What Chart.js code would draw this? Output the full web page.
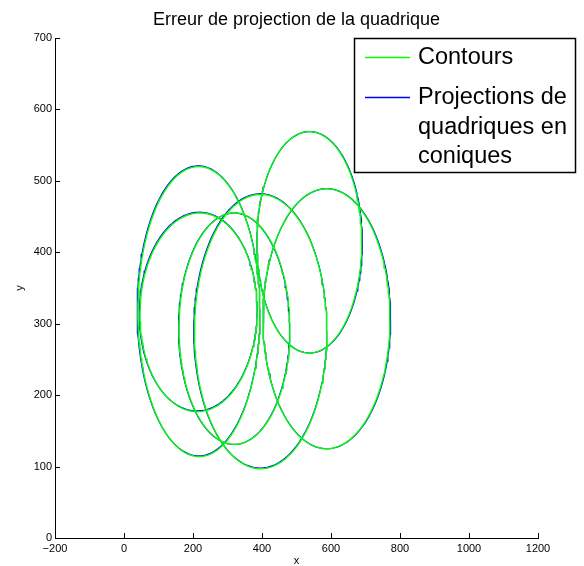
<!DOCTYPE html>
<html>
<head>
<meta charset="utf-8">
<script src="https://cdn.jsdelivr.net/npm/chart.js@4/dist/chart.umd.min.js"></script>
<style>
  html, body { margin: 0; padding: 0; background: #fff; }
  #wrap { width: 584px; height: 566px; position: relative; }
</style>
</head>
<body>
<div id="wrap"><canvas id="c" width="584" height="566"></canvas></div>
<script>
// ---- Data ----
const chartTitle = "Erreur de projection de la quadrique";
const xTicks = [-200, 0, 200, 400, 600, 800, 1000, 1200];
const yTicks = [0, 100, 200, 300, 400, 500, 600, 700];
const seriesNames = ["Contours", "Projections de quadriques en coniques"];

// Contours (green): ellipse centres, semi-axes (data units), tilt (degrees)
const contourCx = [217, 216, 396, 320, 537, 587];
const contourCy = [317, 316, 289, 293, 414, 307];
const contourRx = [177, 170, 192, 161, 152, 184];
const contourRy = [203, 139, 192, 162, 155, 182];
const contourTilt = [1, 3, 0, 3, 0, -1];

// Projections (blue): nearly identical conics
const projCx = [216, 215, 395, 319, 538, 588];
const projCy = [318, 317, 290, 293, 414, 307];
const projRx = [178, 171, 193, 161, 153, 185];
const projRy = [203, 139, 192, 162, 155, 182];
const projTilt = [1, 3, 0, 3, 0, -1];

function conicPoints(cx, cy, rx, ry, tiltDeg) {
  const pts = [];
  const n = 180;
  const t0 = tiltDeg * Math.PI / 180;
  for (let i = 0; i <= n; i++) {
    const a = 2 * Math.PI * i / n;
    const ex = rx * Math.cos(a), ey = ry * Math.sin(a);
    pts.push({ x: cx + ex * Math.cos(t0) - ey * Math.sin(t0),
               y: cy + ex * Math.sin(t0) + ey * Math.cos(t0) });
  }
  return pts;
}

const datasets = [];
// Chart.js draws dataset 0 last (on top), so contours (green) come first
for (let i = 0; i < contourCx.length; i++) {
  datasets.push({
    label: seriesNames[0], order: 0,
    data: conicPoints(contourCx[i], contourCy[i], contourRx[i], contourRy[i], contourTilt[i]),
    borderColor: "#00ff00", borderWidth: 1.4, showLine: true, pointRadius: 0, tension: 0, fill: false
  });
}
for (let i = 0; i < projCx.length; i++) {
  datasets.push({
    label: seriesNames[1], order: 1,
    data: conicPoints(projCx[i], projCy[i], projRx[i], projRy[i], projTilt[i]),
    borderColor: "#0000ff", borderWidth: 1.2, showLine: true, pointRadius: 0, tension: 0, fill: false
  });
}

const FONT = "'Liberation Sans', Arial, Helvetica, sans-serif";

const decor = {
  id: "decor",
  afterDraw(chart) {
    const ctx = chart.ctx;
    const xs = chart.scales.x, ys = chart.scales.y;
    const area = chart.chartArea;
    ctx.save();
    // inward tick marks
    ctx.strokeStyle = "#000";
    ctx.lineWidth = 1;
    ctx.beginPath();
    xTicks.forEach(v => {
      const px = Math.round(xs.getPixelForValue(v)) + 0.5;
      ctx.moveTo(px, area.bottom);
      ctx.lineTo(px, area.bottom - 5);
    });
    yTicks.forEach(v => {
      const py = Math.round(ys.getPixelForValue(v)) + 0.5;
      ctx.moveTo(area.left, py);
      ctx.lineTo(area.left + 5, py);
    });
    ctx.stroke();

    // title
    ctx.fillStyle = "#000";
    ctx.font = "18px " + FONT;
    ctx.textAlign = "center";
    ctx.textBaseline = "middle";
    ctx.fillText(chartTitle, (area.left + area.right) / 2, 20);

    // axis labels
    ctx.font = "11px " + FONT;
    ctx.fillText("x", (area.left + area.right) / 2, 561);
    ctx.save();
    ctx.translate(20, (area.top + area.bottom) / 2);
    ctx.rotate(-Math.PI / 2);
    ctx.fillText("y", 0, 0);
    ctx.restore();

    // legend
    const bx = 354.5, by = 38.5, bw = 221, bh = 134;
    ctx.fillStyle = "#fff";
    ctx.fillRect(bx, by, bw, bh);
    ctx.strokeStyle = "#000";
    ctx.lineWidth = 1.5;
    ctx.strokeRect(bx, by, bw, bh);
    ctx.font = "23.5px " + FONT;
    ctx.textAlign = "left";
    ctx.textBaseline = "middle";
    ctx.lineWidth = 1.3;
    ctx.strokeStyle = "#00ff00";
    ctx.beginPath(); ctx.moveTo(365, 57.5); ctx.lineTo(410, 57.5); ctx.stroke();
    ctx.fillStyle = "#000";
    ctx.fillText(seriesNames[0], 418, 58);
    ctx.strokeStyle = "#0000ff";
    ctx.beginPath(); ctx.moveTo(365, 97.5); ctx.lineTo(410, 97.5); ctx.stroke();
    ctx.fillText("Projections de", 418, 98);
    ctx.fillText("quadriques en", 418, 128);
    ctx.fillText("coniques", 418, 157);
    ctx.restore();
  }
};

new Chart(document.getElementById("c"), {
  type: "scatter",
  data: { datasets },
  options: {
    responsive: false,
    animation: false,
    devicePixelRatio: 1,
    layout: { padding: { left: 0, top: 38, right: 46, bottom: 0 } },
    plugins: { legend: { display: false }, title: { display: false }, tooltip: { enabled: false } },
    scales: {
      x: {
        type: "linear", min: -200, max: 1200,
        afterFit(s) { s.height = 28; },
        afterBuildTicks(s) { s.ticks = xTicks.map(v => ({ value: v })); },
        grid: { drawOnChartArea: false, drawTicks: false },
        border: { display: true, color: "#000", width: 1 },
        ticks: {
          padding: 4, color: "#000", maxRotation: 0, autoSkip: false,
          font: { family: FONT, size: 11 },
          callback: v => (v < 0 ? "\u2212" + Math.abs(v) : String(v))
        }
      },
      y: {
        type: "linear", min: 0, max: 700,
        afterFit(s) { s.width = 55; },
        afterBuildTicks(s) { s.ticks = yTicks.map(v => ({ value: v })); },
        grid: { drawOnChartArea: false, drawTicks: false },
        border: { display: true, color: "#000", width: 1 },
        ticks: {
          padding: 3, color: "#000", autoSkip: false,
          font: { family: FONT, size: 11 },
          callback: v => String(v)
        }
      }
    }
  },
  plugins: [decor]
});
</script>
</body>
</html>
